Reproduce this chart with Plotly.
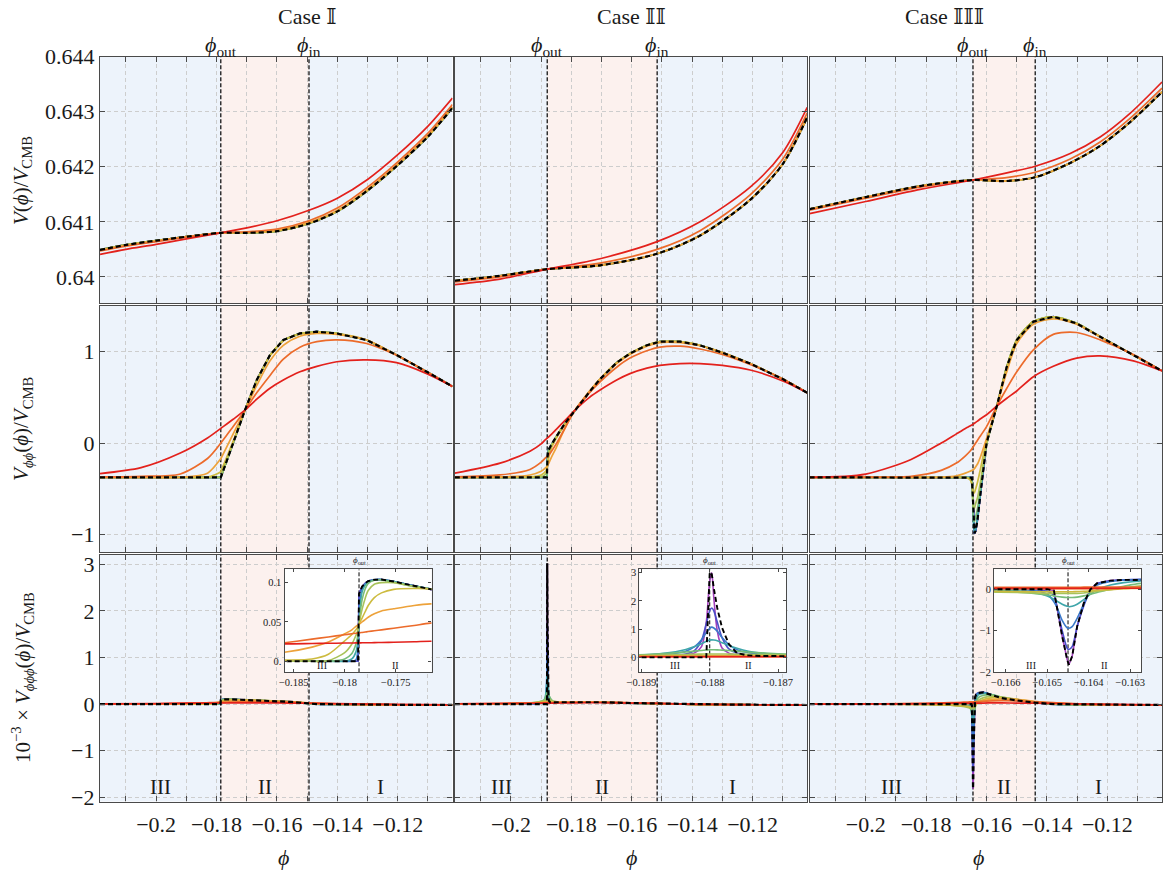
import plotly.graph_objects as go

W, H = 1171, 870
SERIF = "Liberation Serif, DejaVu Serif, serif"

COLORS = ["#e3211c", "#ec6b2b", "#eda23a", "#cdbb3f", "#a8c35a",
          "#76bc78", "#3fa6aa", "#3b79c9", "#4a4fc8", "#a33fbd"]
BLUE_BG = "#edf3fb"
PINK_BG = "#fcf1ee"
FRAME = "#4a4a4a"
GRID = "#cdcdcd"

X_RANGE = [-0.2186, -0.10188]
Y_RANGES = [[0.63952, 0.644], [-1.197, 1.506], [-2.09, 3.21]]

TITLES = ["Case \U0001D540", "Case \U0001D540\U0001D540", "Case \U0001D540\U0001D540\U0001D540"]
PHI_OUT = [-0.1786, -0.1880, -0.1645]
PHI_IN = [-0.1494, -0.1516, -0.1439]

# ---------------- Case 1 ----------------
PHI_V1 = [-0.2186, -0.2100, -0.2000, -0.1900, -0.1786, -0.1700, -0.1600, -0.1494, -0.1400, -0.1300, -0.1200, -0.1100, -0.1019]
V1_EXACT = [0.64049, 0.64058, 0.64066, 0.64073, 0.64080, 0.64080, 0.64083, 0.64097, 0.64119, 0.64157, 0.64203, 0.64255, 0.64307]
V1_C0 = [0.64041, 0.64050, 0.64059, 0.64069, 0.64080, 0.64089, 0.64102, 0.64121, 0.64143, 0.64177, 0.64222, 0.64274, 0.64325]
V1_C1 = [0.64047, 0.64056, 0.64064, 0.64072, 0.64080, 0.64082, 0.64087, 0.64102, 0.64125, 0.64163, 0.64209, 0.64261, 0.64313]
V1_C2 = [0.64048, 0.64057, 0.64065, 0.64073, 0.64080, 0.64081, 0.64085, 0.64099, 0.64121, 0.64159, 0.64205, 0.64257, 0.64309]

PHI_D2_1 = [-0.2186, -0.2050, -0.1920, -0.1830, -0.1788, -0.1786, -0.1745, -0.1706, -0.1667, -0.1623, -0.1579, -0.1524, -0.1468, -0.1402, -0.1303, -0.1204, -0.1104, -0.1019]
D2_1_EXACT = [-0.376, -0.376, -0.376, -0.376, -0.376, -0.376, 0.0, 0.36, 0.69, 0.964, 1.128, 1.20, 1.219, 1.20, 1.128, 0.964, 0.78, 0.62]
D2_1_C0 = [-0.335, -0.27, -0.11, 0.055, 0.155, 0.16, 0.26, 0.36, 0.48, 0.60, 0.69, 0.78, 0.84, 0.89, 0.91, 0.88, 0.76, 0.62]
D2_1_C1 = [-0.372, -0.365, -0.34, -0.17, -0.01, 0.0, 0.18, 0.36, 0.55, 0.74, 0.92, 1.05, 1.11, 1.13, 1.09, 0.96, 0.78, 0.62]
D2_1_C2 = [-0.376, -0.376, -0.375, -0.33, -0.18, -0.17, 0.10, 0.36, 0.63, 0.90, 1.07, 1.17, 1.20, 1.19, 1.128, 0.964, 0.78, 0.62]
D2_1_C3 = [-0.376, -0.376, -0.376, -0.373, -0.32, -0.31, 0.02, 0.36, 0.68, 0.955, 1.12, 1.195, 1.215, 1.20, 1.128, 0.964, 0.78, 0.62]

PHI_D3_1 = [-0.2186, -0.2000, -0.1900, -0.1859, -0.1832, -0.1816, -0.1800, -0.1793, -0.1789, -0.1787, -0.1786, -0.1785, -0.1783,
            -0.1780, -0.1777, -0.1771, -0.1764, -0.1752, -0.1732, -0.1716, -0.1650, -0.1550, -0.1470, -0.1350, -0.1200, -0.1019]
D3_1_EXACT = [0, 0, 0, 0, 0, 0, 0, 0, 0, 0, 0.086, 0.090, 0.095, 0.099, 0.102, 0.1038, 0.104, 0.1015, 0.096, 0.092, 0.076, 0.046, 0.0, -0.009, -0.015, -0.017]
D3_1_C0 = [0.005, 0.012, 0.019, 0.0221, 0.0226, 0.0229, 0.0232, 0.0233, 0.0234, 0.0234, 0.0234, 0.0234, 0.0235, 0.0235, 0.0236, 0.0237, 0.0239, 0.0242, 0.0248, 0.0255, 0.026, 0.022, 0.015, 0.004, -0.008, -0.018]
D3_1_C1 = [0.002, 0.008, 0.017, 0.0235, 0.0282, 0.031, 0.0338, 0.035, 0.0357, 0.036, 0.0362, 0.0364, 0.0367, 0.0372, 0.0378, 0.0388, 0.040, 0.0421, 0.0456, 0.0485, 0.055, 0.038, 0.018, -0.004, -0.015, -0.020]
D3_1_C2 = [0.001, 0.003, 0.008, 0.0115, 0.018, 0.0245, 0.035, 0.040, 0.0445, 0.046, 0.047, 0.048, 0.050, 0.053, 0.056, 0.0605, 0.064, 0.0668, 0.071, 0.073, 0.072, 0.046, 0.018, -0.006, -0.016, -0.019]
D3_1_C3 = [0, 0, 0.0005, 0.0015, 0.003, 0.009, 0.026, 0.034, 0.040, 0.044, 0.047, 0.050, 0.055, 0.063, 0.071, 0.081, 0.087, 0.0915, 0.0925, 0.092, 0.078, 0.048, 0.012, -0.008, -0.015, -0.017]
D3_1_C4 = [0, 0, 0, 0, 0.0003, 0.001, 0.011, 0.022, 0.033, 0.040, 0.047, 0.054, 0.066, 0.080, 0.090, 0.098, 0.100, 0.100, 0.095, 0.092, 0.076, 0.047, 0.005, -0.008, -0.014, -0.017]
D3_1_C5 = [0, 0, 0, 0, 0, 0, 0.003, 0.010, 0.022, 0.034, 0.047, 0.060, 0.078, 0.092, 0.099, 0.103, 0.1035, 0.1005, 0.095, 0.092, 0.076, 0.046, 0.002, -0.009, -0.015, -0.017]
D3_1_C6 = [0, 0, 0, 0, 0, 0, 0, 0.003, 0.012, 0.028, 0.047, 0.068, 0.088, 0.097, 0.101, 0.1035, 0.104, 0.1015, 0.096, 0.092, 0.076, 0.046, 0.0, -0.009, -0.015, -0.017]
D3_1_C7 = [0, 0, 0, 0, 0, 0, 0, 0, 0.002, 0.015, 0.047, 0.078, 0.092, 0.098, 0.102, 0.1038, 0.104, 0.1015, 0.096, 0.092, 0.076, 0.046, 0.0, -0.009, -0.015, -0.017]

# ---------------- Case 2 ----------------
PHI_V2 = [-0.2186, -0.2036, -0.1880, -0.1705, -0.1516, -0.1374, -0.1208, -0.1100, -0.1019]
V2_EXACT = [0.63993, 0.64002, 0.64014, 0.64021, 0.64042, 0.64075, 0.64140, 0.64205, 0.64290]
V2_C0 = [0.63986, 0.63996, 0.64014, 0.64033, 0.64064, 0.64100, 0.64163, 0.64226, 0.64308]
V2_C1 = [0.63991, 0.64000, 0.64014, 0.64025, 0.64050, 0.64084, 0.64149, 0.64214, 0.64298]

PHI_D2_2 = [-0.2186, -0.2036, -0.1937, -0.1900, -0.1885, -0.1881, -0.1879, -0.1876, -0.1868, -0.1850, -0.1820, -0.1788,
            -0.1740, -0.1705, -0.1650, -0.1606, -0.1550, -0.1507, -0.1440, -0.1374, -0.1300, -0.1208, -0.1100, -0.1019]
D2_2_EXACT = [-0.376, -0.376, -0.376, -0.376, -0.376, -0.376, -0.15, -0.08, -0.03, 0.07, 0.22, 0.36, 0.56, 0.70, 0.88, 0.98, 1.07, 1.11, 1.11, 1.07, 0.99, 0.87, 0.70, 0.55]
D2_2_C0 = [-0.33, -0.22, -0.09, -0.01, 0.04, 0.05, 0.055, 0.065, 0.09, 0.15, 0.25, 0.36, 0.50, 0.58, 0.69, 0.76, 0.82, 0.85, 0.87, 0.87, 0.85, 0.80, 0.68, 0.55]
D2_2_C1 = [-0.37, -0.35, -0.29, -0.21, -0.16, -0.15, -0.145, -0.135, -0.10, -0.01, 0.17, 0.36, 0.55, 0.67, 0.83, 0.93, 1.01, 1.05, 1.06, 1.03, 0.97, 0.86, 0.70, 0.55]
D2_2_C2 = [-0.376, -0.372, -0.35, -0.31, -0.27, -0.26, -0.25, -0.23, -0.17, -0.05, 0.17, 0.36, 0.57, 0.70, 0.87, 0.97, 1.06, 1.10, 1.10, 1.065, 0.99, 0.87, 0.70, 0.55]
D2_2_C3 = [-0.376, -0.376, -0.372, -0.35, -0.31, -0.28, -0.25, -0.18, -0.07, 0.05, 0.21, 0.36, 0.56, 0.70, 0.88, 0.98, 1.07, 1.11, 1.11, 1.07, 0.99, 0.87, 0.70, 0.55]
D2_2_C4 = [-0.376, -0.376, -0.376, -0.37, -0.34, -0.30, -0.22, -0.12, -0.04, 0.07, 0.22, 0.36, 0.56, 0.70, 0.88, 0.98, 1.07, 1.11, 1.11, 1.07, 0.99, 0.87, 0.70, 0.55]

PHI_D3_2 = [-0.2186, -0.2000, -0.1920, -0.18903, -0.1885, -0.18835, -0.18822, -0.18812, -0.18805, -0.18800, -0.18797,
            -0.18794, -0.18789, -0.18782, -0.18772, -0.18760, -0.18745, -0.18725, -0.18700, -0.18688, -0.1860, -0.1840,
            -0.1800, -0.1700, -0.1600, -0.1516, -0.1400, -0.1250, -0.1100, -0.1019]
D3_2_EXACT = [0, 0, 0, 0, 0, 0, 0, 0, 0.0, 3.02, 2.95, 2.45, 1.75, 1.05, 0.47, 0.15, 0.07, 0.045, 0.04, 0.039, 0.039, 0.040, 0.040, 0.040, 0.022, 0.012, -0.006, -0.012, -0.016, -0.019]
D3_2_C9 = [0, 0.003, 0.01, 0.03, 0.05, 0.08, 0.16, 0.38, 1.25, 2.7, 3.0, 2.1, 0.95, 0.33, 0.15, 0.09, 0.065, 0.05, 0.045, 0.043, 0.04, 0.04, 0.04, 0.04, 0.022, 0.012, -0.006, -0.012, -0.016, -0.019]
D3_2_C8 = [0, 0.004, 0.012, 0.04, 0.08, 0.12, 0.25, 0.6, 1.2, 1.65, 1.75, 1.65, 1.25, 0.7, 0.3, 0.15, 0.09, 0.06, 0.048, 0.045, 0.04, 0.04, 0.04, 0.04, 0.022, 0.012, -0.006, -0.012, -0.016, -0.019]
D3_2_C7 = [0, 0.005, 0.015, 0.06, 0.15, 0.22, 0.38, 0.62, 0.88, 1.03, 1.07, 1.04, 0.93, 0.7, 0.45, 0.27, 0.17, 0.11, 0.07, 0.06, 0.045, 0.04, 0.04, 0.04, 0.022, 0.012, -0.006, -0.012, -0.016, -0.019]
D3_2_C6 = [0, 0.006, 0.02, 0.08, 0.2, 0.28, 0.38, 0.48, 0.57, 0.61, 0.62, 0.615, 0.59, 0.52, 0.42, 0.32, 0.22, 0.15, 0.10, 0.09, 0.05, 0.041, 0.04, 0.04, 0.022, 0.012, -0.006, -0.012, -0.016, -0.019]
D3_2_C5 = [0, 0.008, 0.03, 0.09, 0.16, 0.19, 0.22, 0.245, 0.26, 0.27, 0.27, 0.27, 0.265, 0.255, 0.24, 0.22, 0.19, 0.16, 0.13, 0.12, 0.06, 0.043, 0.04, 0.04, 0.022, 0.012, -0.006, -0.012, -0.016, -0.019]
D3_2_C4 = [0, 0.01, 0.035, 0.07, 0.09, 0.10, 0.11, 0.115, 0.12, 0.12, 0.12, 0.12, 0.12, 0.118, 0.115, 0.11, 0.105, 0.10, 0.09, 0.085, 0.06, 0.045, 0.041, 0.04, 0.022, 0.012, -0.006, -0.012, -0.016, -0.019]
D3_2_C3 = [0, 0.01, 0.03, 0.05, 0.055, 0.057, 0.058, 0.059, 0.06, 0.06, 0.06, 0.06, 0.06, 0.06, 0.059, 0.058, 0.057, 0.056, 0.055, 0.054, 0.05, 0.046, 0.042, 0.04, 0.022, 0.012, -0.006, -0.012, -0.016, -0.019]
D3_2_C2 = [0.002, 0.012, 0.025, 0.035, 0.037, 0.038, 0.038, 0.038, 0.038, 0.038, 0.038, 0.038, 0.038, 0.038, 0.038, 0.038, 0.038, 0.038, 0.039, 0.039, 0.04, 0.042, 0.043, 0.042, 0.025, 0.013, -0.006, -0.012, -0.016, -0.019]
D3_2_C1 = [0.004, 0.013, 0.02, 0.025, 0.026, 0.026, 0.026, 0.026, 0.026, 0.026, 0.026, 0.026, 0.026, 0.026, 0.026, 0.026, 0.026, 0.026, 0.027, 0.027, 0.029, 0.032, 0.037, 0.040, 0.028, 0.015, -0.004, -0.012, -0.017, -0.02]
D3_2_C0 = [0.008, 0.014, 0.018, 0.02, 0.02, 0.02, 0.02, 0.02, 0.02, 0.02, 0.02, 0.02, 0.02, 0.02, 0.02, 0.02, 0.02, 0.02, 0.021, 0.021, 0.022, 0.024, 0.027, 0.029, 0.022, 0.014, 0.0, -0.01, -0.018, -0.022]

# ---------------- Case 3 ----------------
PHI_V3 = [-0.2186, -0.2000, -0.1820, -0.1645, -0.1540, -0.1439, -0.1323, -0.1224, -0.1125, -0.1019]
V3_EXACT = [0.64123, 0.64145, 0.64165, 0.64176, 0.64174, 0.64181, 0.64207, 0.64238, 0.64281, 0.64336]
V3_C0 = [0.64115, 0.64137, 0.64159, 0.64176, 0.64188, 0.64201, 0.64224, 0.64254, 0.64297, 0.64354]
V3_C1 = [0.64121, 0.64143, 0.64163, 0.64176, 0.64180, 0.64190, 0.64214, 0.64245, 0.64288, 0.64343]

PHI_D2_3 = [-0.2186, -0.2000, -0.1850, -0.1750, -0.1700, -0.1670, -0.1655, -0.1649, -0.1646, -0.1643, -0.1640, -0.1636,
            -0.1630, -0.1620, -0.1600, -0.1566, -0.1533, -0.1500, -0.1445, -0.1379, -0.1302, -0.1224, -0.1114, -0.1019]
D2_3_EXACT = [-0.376, -0.376, -0.376, -0.376, -0.376, -0.376, -0.376, -0.38, -0.55, -0.88, -0.99, -0.96, -0.84, -0.55, 0.0, 0.405, 0.836, 1.128, 1.33, 1.383, 1.31, 1.164, 0.964, 0.79]
D2_3_C0 = [-0.376, -0.34, -0.18, 0.0, 0.10, 0.16, 0.185, 0.197, 0.203, 0.21, 0.217, 0.226, 0.24, 0.265, 0.31, 0.405, 0.49, 0.57, 0.726, 0.84, 0.93, 0.955, 0.90, 0.79]
D2_3_C1 = [-0.376, -0.374, -0.365, -0.30, -0.22, -0.14, -0.09, -0.065, -0.05, -0.035, -0.02, 0.0, 0.03, 0.08, 0.18, 0.405, 0.6, 0.78, 1.02, 1.19, 1.21, 1.13, 0.97, 0.79]
D2_3_C2 = [-0.376, -0.376, -0.376, -0.375, -0.36, -0.33, -0.31, -0.30, -0.295, -0.29, -0.28, -0.26, -0.23, -0.15, 0.05, 0.405, 0.78, 1.09, 1.30, 1.36, 1.30, 1.16, 0.964, 0.79]
D2_3_C3 = [-0.376, -0.376, -0.376, -0.376, -0.376, -0.38, -0.40, -0.44, -0.50, -0.55, -0.54, -0.50, -0.43, -0.28, 0.03, 0.405, 0.836, 1.128, 1.33, 1.383, 1.31, 1.164, 0.964, 0.79]
D2_3_C4 = [-0.376, -0.376, -0.376, -0.376, -0.376, -0.376, -0.39, -0.45, -0.60, -0.72, -0.71, -0.66, -0.60, -0.42, -0.02, 0.405, 0.836, 1.128, 1.33, 1.383, 1.31, 1.164, 0.964, 0.79]
D2_3_C5 = [-0.376, -0.376, -0.376, -0.376, -0.376, -0.376, -0.38, -0.41, -0.60, -0.84, -0.86, -0.81, -0.72, -0.49, -0.02, 0.405, 0.836, 1.128, 1.33, 1.383, 1.31, 1.164, 0.964, 0.79]
D2_3_C6 = [-0.376, -0.376, -0.376, -0.376, -0.376, -0.376, -0.377, -0.39, -0.56, -0.90, -0.97, -0.93, -0.82, -0.54, 0.0, 0.405, 0.836, 1.128, 1.33, 1.383, 1.31, 1.164, 0.964, 0.79]

PHI_D3_3 = [-0.2186, -0.1950, -0.1800, -0.1720, -0.1685, -0.16628, -0.16572, -0.16532, -0.16500, -0.16484, -0.16476,
            -0.16464, -0.16452, -0.16448, -0.16440, -0.16428, -0.16412, -0.16396, -0.16380, -0.16348, -0.16316, -0.16274,
            -0.1610, -0.1580, -0.1550, -0.1500, -0.1439, -0.1379, -0.1250, -0.1100, -0.1019]
D3_3_EXACT = [0, 0, 0, 0, 0, 0, 0, 0, 0, -0.03, -0.496, -1.135, -1.695, -1.815, -1.615, -0.896, -0.336, 0.0, 0.144, 0.207, 0.225, 0.239, 0.25, 0.19, 0.13, 0.08, 0.03, 0.0, -0.012, -0.016, -0.017]
D3_3_C8 = [0, 0, 0, 0, 0, 0, 0, -0.01, -0.05, -0.15, -0.45, -1.0, -1.42, -1.45, -1.38, -0.9, -0.4, -0.03, 0.13, 0.2, 0.225, 0.238, 0.25, 0.19, 0.13, 0.08, 0.03, 0.0, -0.012, -0.016, -0.017]
D3_3_C7 = [0, 0, 0, 0, -0.002, -0.005, -0.01, -0.03, -0.12, -0.3, -0.45, -0.75, -0.93, -0.94, -0.9, -0.7, -0.35, -0.05, 0.1, 0.19, 0.22, 0.235, 0.245, 0.19, 0.13, 0.08, 0.03, 0.0, -0.012, -0.016, -0.017]
D3_3_C6 = [0, 0, 0, -0.005, -0.012, -0.02, -0.04, -0.08, -0.16, -0.24, -0.29, -0.36, -0.41, -0.42, -0.41, -0.36, -0.25, -0.12, -0.01, 0.1, 0.16, 0.2, 0.23, 0.2, 0.14, 0.085, 0.03, 0.0, -0.012, -0.016, -0.017]
D3_3_C5 = [0, 0, -0.003, -0.012, -0.03, -0.05, -0.07, -0.1, -0.14, -0.16, -0.175, -0.19, -0.2, -0.2, -0.2, -0.19, -0.16, -0.12, -0.08, 0.0, 0.07, 0.14, 0.19, 0.2, 0.15, 0.09, 0.035, 0.0, -0.012, -0.016, -0.017]
D3_3_C4 = [0, 0, -0.005, -0.02, -0.045, -0.07, -0.08, -0.09, -0.1, -0.1, -0.1, -0.1, -0.1, -0.1, -0.1, -0.1, -0.09, -0.07, -0.05, -0.01, 0.03, 0.08, 0.14, 0.17, 0.15, 0.1, 0.04, 0.005, -0.012, -0.016, -0.017]
D3_3_C3 = [0, -0.003, -0.01, -0.025, -0.04, -0.05, -0.055, -0.06, -0.06, -0.06, -0.06, -0.06, -0.06, -0.06, -0.06, -0.055, -0.05, -0.04, -0.03, -0.01, 0.01, 0.04, 0.1, 0.14, 0.14, 0.1, 0.045, 0.01, -0.01, -0.016, -0.017]
D3_3_C2 = [0, 0.002, 0.005, 0.008, 0.01, 0.01, 0.01, 0.01, 0.01, 0.01, 0.01, 0.01, 0.01, 0.01, 0.01, 0.011, 0.012, 0.013, 0.014, 0.016, 0.018, 0.02, 0.07, 0.1, 0.11, 0.1, 0.055, 0.02, -0.008, -0.016, -0.018]
D3_3_C1 = [0.0, 0.005, 0.015, 0.03, 0.04, 0.045, 0.046, 0.047, 0.048, 0.048, 0.048, 0.048, 0.048, 0.048, 0.048, 0.049, 0.05, 0.05, 0.051, 0.052, 0.053, 0.055, 0.06, 0.07, 0.075, 0.07, 0.05, 0.03, -0.005, -0.017, -0.018]
D3_3_C0 = [0.0, 0.004, 0.011, 0.018, 0.02, 0.02, 0.02, 0.02, 0.02, 0.02, 0.02, 0.02, 0.02, 0.02, 0.02, 0.02, 0.02, 0.02, 0.021, 0.021, 0.022, 0.022, 0.023, 0.025, 0.025, 0.023, 0.02, 0.013, 0.0, -0.012, -0.017]

# inset windows around phi_out
INSET_X = [[-0.1859, -0.1715], [-0.18903, -0.18688], [-0.16628, -0.16274]]
INSET_Y = [[-0.014, 0.117], [-0.53, 3.12], [-2.0, 0.48]]
INSET_XTICKS = [[-0.185, -0.18, -0.175], [-0.189, -0.188, -0.187], [-0.166, -0.165, -0.164, -0.163]]
INSET_XTEXT = [["\u22120.185", "\u22120.18", "\u22120.175"], ["\u22120.189", "\u22120.188", "\u22120.187"],
               ["\u22120.166", "\u22120.165", "\u22120.164", "\u22120.163"]]
INSET_YTICKS = [[0, 0.05, 0.1], [0, 1, 2, 3], [-2, -1, 0]]
INSET_YTEXT = [["0.", "0.05", "0.1"], ["0", "1", "2", "3"], ["\u22122", "\u22121", "0"]]
INSET_BG = [(BLUE_BG, PINK_BG), (BLUE_BG, BLUE_BG), (PINK_BG, PINK_BG)]

CASES = [
    dict(rows=[(PHI_V1, V1_EXACT, {0: V1_C0, 1: V1_C1, 2: V1_C2}),
               (PHI_D2_1, D2_1_EXACT, {0: D2_1_C0, 1: D2_1_C1, 2: D2_1_C2, 3: D2_1_C3}),
               (PHI_D3_1, D3_1_EXACT, {0: D3_1_C0, 1: D3_1_C1, 2: D3_1_C2, 3: D3_1_C3, 4: D3_1_C4,
                                       5: D3_1_C5, 6: D3_1_C6, 7: D3_1_C7})]),
    dict(rows=[(PHI_V2, V2_EXACT, {0: V2_C0, 1: V2_C1}),
               (PHI_D2_2, D2_2_EXACT, {0: D2_2_C0, 1: D2_2_C1, 2: D2_2_C2, 3: D2_2_C3, 4: D2_2_C4}),
               (PHI_D3_2, D3_2_EXACT, {0: D3_2_C0, 1: D3_2_C1, 2: D3_2_C2, 3: D3_2_C3, 4: D3_2_C4,
                                       5: D3_2_C5, 6: D3_2_C6, 7: D3_2_C7, 8: D3_2_C8, 9: D3_2_C9})]),
    dict(rows=[(PHI_V3, V3_EXACT, {0: V3_C0, 1: V3_C1}),
               (PHI_D2_3, D2_3_EXACT, {0: D2_3_C0, 1: D2_3_C1, 2: D2_3_C2, 3: D2_3_C3, 4: D2_3_C4,
                                       5: D2_3_C5, 6: D2_3_C6}),
               (PHI_D3_3, D3_3_EXACT, {0: D3_3_C0, 1: D3_3_C1, 2: D3_3_C2, 3: D3_3_C3, 4: D3_3_C4,
                                       5: D3_3_C5, 6: D3_3_C6, 7: D3_3_C7, 8: D3_3_C8})]),
]

for case in CASES:
    for phi, exact, extra in case["rows"]:
        assert len(phi) == len(exact), (len(phi), len(exact))
        for k, v in extra.items():
            assert len(v) == len(phi), (k, len(v), len(phi))

# panel placement in pixels
COL_PX = [(100, 452.5), (454.8, 807.3), (809.6, 1162.1)]
ROW_PX = [(56.7, 303.3), (305.5, 552.3), (554.5, 801.5)]
INSET_OFF = (184.5, 147.0, 14.8, 103.0)   # left offset, width, top offset, height


def fx(p):
    return p / W


def fy(p):
    return 1 - p / H


def sfx(n):
    return "" if n == 1 else str(n)


fig = go.Figure()
layout = dict(width=W, height=H, margin=dict(l=0, r=0, t=0, b=0, pad=0, autoexpand=False), showlegend=False,
              paper_bgcolor="white", plot_bgcolor="white",
              font=dict(family=SERIF, color="#1a1a1a"))
shapes, annotations = [], []

X_TICKS = [round(-0.21 + 0.01 * i, 2) for i in range(11)]
X_TEXT = [("\u2212" + ("%g" % abs(t))) if (round(abs(t) * 100) % 2 == 0) else "" for t in X_TICKS]
Y_TICKS = [[0.64, 0.641, 0.642, 0.643, 0.644], [-1, 0, 1], [-2, -1, 0, 1, 2, 3]]
Y_TEXT = [["0.64", "0.641", "0.642", "0.643", "0.644"], ["\u22121", "0", "1"],
          ["\u22122", "\u22121", "0", "1", "2", "3"]]

base_axis = dict(showline=True, linecolor=FRAME, linewidth=1.3, mirror="allticks", ticks="inside",
                 ticklen=5, tickwidth=1, tickcolor=FRAME, showgrid=True, gridcolor=GRID, gridwidth=1,
                 griddash="4px,3px", zeroline=False, automargin=False)


def add_markers(n, phis, yrange, width):
    xa, ya = "x" + sfx(n), "y" + sfx(n)
    for p in phis:
        fig.add_trace(go.Scatter(x=[p, p], y=yrange, mode="lines", xaxis=xa, yaxis=ya, hoverinfo="skip",
                                 line=dict(color="black", width=width, dash="4px,2px")))


def add_series(n, phi, exact, extra, row, inset=False):
    xa, ya = "x" + sfx(n), "y" + sfx(n)
    for k in range(9, -1, -1):
        ys = extra.get(k, exact)
        smooth = (row == 0) or (ys is not exact)
        fig.add_trace(go.Scatter(x=phi, y=ys, mode="lines", xaxis=xa, yaxis=ya, hoverinfo="skip",
                                 line=dict(color=COLORS[k], width=1.7 if not inset else 1.6,
                                           shape="spline" if smooth else "linear", smoothing=0.8)))
    fig.add_trace(go.Scatter(x=phi, y=exact, mode="lines", xaxis=xa, yaxis=ya, hoverinfo="skip",
                             line=dict(color="black", width=2.2 if not inset else 1.9, dash="5px,3px",
                                       shape="spline" if row == 0 else "linear", smoothing=0.8)))


for c, case in enumerate(CASES):
    po, pi = PHI_OUT[c], PHI_IN[c]
    for r in range(3):
        n = r * 3 + c + 1
        x0, x1 = COL_PX[c]
        y0, y1 = ROW_PX[r]
        layout["xaxis" + sfx(n)] = dict(base_axis, domain=[fx(x0), fx(x1)], anchor="y" + sfx(n),
                                        range=X_RANGE, tickvals=X_TICKS, ticktext=X_TEXT,
                                        showticklabels=(r == 2), tickfont=dict(size=22, family=SERIF),
                                        ticklabelstandoff=3)
        layout["yaxis" + sfx(n)] = dict(base_axis, domain=[fy(y1), fy(y0)], anchor="x" + sfx(n),
                                        range=Y_RANGES[r], tickvals=Y_TICKS[r], ticktext=Y_TEXT[r],
                                        showticklabels=(c == 0), tickfont=dict(size=22, family=SERIF))
        xr, yr = "x" + sfx(n), "y" + sfx(n) + " domain"
        for a, b, col in [(X_RANGE[0], po, BLUE_BG), (po, pi, PINK_BG), (pi, X_RANGE[1], BLUE_BG)]:
            shapes.append(dict(type="rect", xref=xr, yref=yr, x0=a, x1=b, y0=0, y1=1, fillcolor=col,
                               line=dict(width=0), layer="below"))
        add_markers(n, (po, pi), Y_RANGES[r], 1.2)
        phi, exact, extra = case["rows"][r]
        add_series(n, phi, exact, extra, r)

    # top labels for the matching points
    for p, lab in ((po, "out"), (pi, "in")):
        annotations.append(dict(x=p, xref="x" + sfx(c + 1), y=fy(46), yref="paper", showarrow=False,
                                text="<i>\u03d5</i><sub>%s</sub>" % lab, font=dict(size=22, family=SERIF),
                                xanchor="center", yanchor="middle"))
    annotations.append(dict(x=fx((COL_PX[c][0] + COL_PX[c][1]) / 2), xref="paper", y=fy(17), yref="paper",
                            showarrow=False, text=TITLES[c], yanchor="middle",
                            font=dict(size=22, family=SERIF + ", DejaVu Sans")))
    annotations.append(dict(x=fx((COL_PX[c][0] + COL_PX[c][1]) / 2), xref="paper", y=fy(857), yref="paper",
                            showarrow=False, text="<i>\u03d5</i>", yanchor="middle",
                            font=dict(size=22, family=SERIF)))
    # region labels in the bottom row
    n3 = 6 + c + 1
    for a, b, lab in [(X_RANGE[0], po, "III"), (po, pi, "II"), (pi, X_RANGE[1], "I")]:
        annotations.append(dict(x=(a + b) / 2, xref="x" + sfx(n3), y=fy(787), yref="paper", showarrow=False,
                                text=lab, yanchor="middle", font=dict(size=21, family=SERIF)))

    # inset around phi_out
    ni = 10 + c
    ix0 = COL_PX[c][0] + INSET_OFF[0]
    iy0 = ROW_PX[2][0] + INSET_OFF[2]
    inset_axis = dict(showline=True, linecolor=FRAME, linewidth=1.1, mirror="allticks", ticks="inside",
                      ticklen=3, tickwidth=0.8, tickcolor=FRAME, showgrid=False, zeroline=False,
                      automargin=False, tickfont=dict(size=10.5, family=SERIF))
    layout["xaxis%d" % ni] = dict(inset_axis, domain=[fx(ix0), fx(ix0 + INSET_OFF[1])], anchor="y%d" % ni,
                                  range=INSET_X[c], tickvals=INSET_XTICKS[c], ticktext=INSET_XTEXT[c])
    layout["yaxis%d" % ni] = dict(inset_axis, domain=[fy(iy0 + INSET_OFF[3]), fy(iy0)], anchor="x%d" % ni,
                                  range=INSET_Y[c], tickvals=INSET_YTICKS[c], ticktext=INSET_YTEXT[c])
    xr, yr = "x%d" % ni, "y%d domain" % ni
    left_bg, right_bg = INSET_BG[c]
    for a, b, col in [(INSET_X[c][0], po, left_bg), (po, INSET_X[c][1], right_bg)]:
        shapes.append(dict(type="rect", xref=xr, yref=yr, x0=a, x1=b, y0=0, y1=1, fillcolor=col,
                           line=dict(width=0), layer="below"))
    add_markers(ni, (po,), INSET_Y[c], 1.0)
    phi, exact, extra = case["rows"][2]
    add_series(ni, phi, exact, extra, 2, inset=True)
    annotations.append(dict(x=po, xref=xr, y=fy(iy0 - 1), yref="paper", showarrow=False, yanchor="bottom",
                            text="<i>\u03d5</i><sub>out</sub>", font=dict(size=9, family=SERIF)))
    for a, b, lab in [(INSET_X[c][0], po, "III"), (po, INSET_X[c][1], "II")]:
        annotations.append(dict(x=(a + b) / 2, xref=xr, y=fy(iy0 + 96), yref="paper", showarrow=False,
                                text=lab, yanchor="middle", font=dict(size=10, family=SERIF)))

# y-axis titles
Y_TITLES = ["<i>V</i>(<i>\u03d5</i>)/<i>V</i><sub>CMB</sub>",
            "<i>V</i><sub><i>\u03d5\u03d5</i></sub>(<i>\u03d5</i>)/<i>V</i><sub>CMB</sub>",
            "10<sup>\u22123</sup> \u00d7 <i>V</i><sub><i>\u03d5\u03d5\u03d5</i></sub>(<i>\u03d5</i>)/<i>V</i><sub>CMB</sub>"]
for r in range(3):
    annotations.append(dict(x=fx(22), xref="paper", y=fy((ROW_PX[r][0] + ROW_PX[r][1]) / 2), yref="paper",
                            showarrow=False, text=Y_TITLES[r], textangle=-90,
                            font=dict(size=21, family=SERIF), xanchor="center", yanchor="middle"))

layout["shapes"] = shapes
layout["annotations"] = annotations
fig.update_layout(**layout)
fig.write_html("out.html")
